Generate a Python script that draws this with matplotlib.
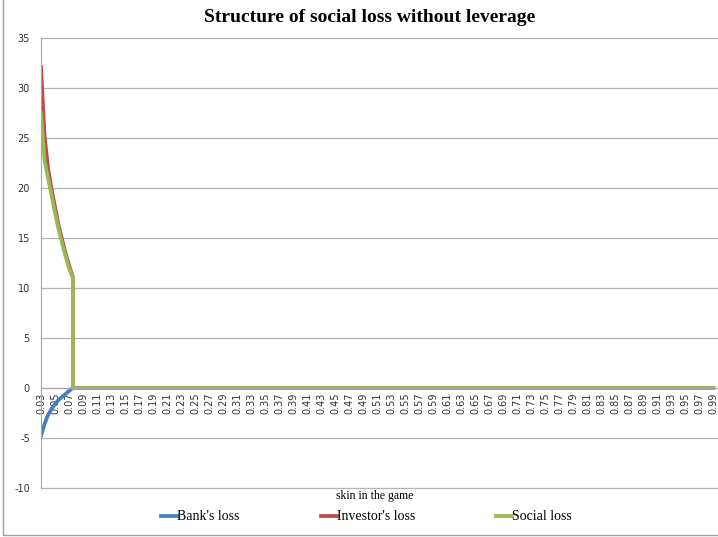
#!/usr/bin/env python3

import matplotlib as mpl
mpl.use('Agg')
import matplotlib.pyplot as plt
from matplotlib.patches import Rectangle

## Data (x = skin in the game)
bank_x = [0.030, 0.035, 0.040, 0.045, 0.050, 0.055, 0.060, 0.065, 0.070, 0.0755, 0.99]
bank_y = [-4.8, -3.6, -2.7, -2.1, -1.6, -1.2, -0.9, -0.6, -0.3, 0.0, 0.0]

investor_x = [0.030, 0.035, 0.040, 0.045, 0.050, 0.055, 0.060, 0.065, 0.070, 0.0745, 0.0755, 0.0755, 0.99]
investor_y = [32.1, 25.3, 22.0, 19.9, 18.1, 16.3, 14.9, 13.5, 12.3, 11.3, 11.1, 0.0, 0.0]

social_x = [0.030, 0.035, 0.040, 0.045, 0.050, 0.055, 0.060, 0.065, 0.070, 0.0755, 0.0755, 0.99]
social_y = [27.5, 22.8, 21.0, 19.3, 17.5, 15.9, 14.5, 13.2, 12.0, 11.0, 0.0, 0.0]

xticks = [round(0.03 + 0.02 * i, 2) for i in range(49)]
xticklabels = ['{:.2f}'.format(t) for t in xticks]
yticks = [-10, -5, 0, 5, 10, 15, 20, 25, 30, 35]

series = [
  ("Bank's loss", bank_x, bank_y, '#4a7ebb'),
  ("Investor's loss", investor_x, investor_y, '#be4b48'),
  ("Social loss", social_x, social_y, '#98b954'),
]

serif = ['Liberation Serif', 'DejaVu Serif']
plt.rcParams['axes.unicode_minus'] = False

fig = plt.figure(figsize=(7.18, 5.37), dpi=100)
ax = fig.add_axes([41 / 718, 1 - 488 / 537, 677 / 718, 450 / 537])

# move the category axis to y = 0 first (this resets the tick objects)
for side in ['top', 'right']:
  ax.spines[side].set_visible(False)
ax.spines['left'].set_color('#a6a6a6')
ax.spines['bottom'].set_color('#a6a6a6')
ax.spines['bottom'].set_position(('data', 0))

lines = []
for name, xs, ys, col in series:
  ln, = ax.plot(xs, ys, color=col, lw=2.7, label=name, solid_joinstyle='round')
  lines.append(ln)

ax.set_xlim(0.03, 0.9967)
ax.set_ylim(-10, 35)
ax.set_yticks(yticks)
ax.set_xticks(xticks)
ax.set_xticklabels(xticklabels, rotation=90, fontsize=7)
ax.tick_params(axis='y', length=0, pad=8, labelsize=7, colors='#303030')
ax.tick_params(axis='x', length=0, pad=3, colors='#303030')
ax.grid(visible=True, axis='y', color='#b3b3b3', lw=0.9)
for gl in ax.get_ygridlines():
  gl.set_clip_on(False)
ax.set_axisbelow(True)

fig.text(370 / 718, 1 - 17 / 537, 'Structure of social loss without leverage',
         ha='center', va='center', fontsize=14, fontweight='bold', family=serif)
fig.text(375 / 718, 1 - 496 / 537, 'skin in the game',
         ha='center', va='center', fontsize=8.5, family=serif)

# Legend entries placed one by one, like the spreadsheet layout
for ln, xpos in zip(lines, [161, 321, 496]):
  leg = fig.legend(handles=[ln], loc='center left',
                   bbox_to_anchor=(xpos / 718, 1 - 517 / 537),
                   frameon=False, handlelength=1.15, handletextpad=0.0,
                   borderpad=0, borderaxespad=0,
                   prop={'family': serif, 'size': 10})

# chart area border
fig.patches.append(Rectangle((3 / 718, 2 / 537), 1.2, 1.2, transform=fig.transFigure,
                             fill=False, ec='#a0a0a0', lw=1))

fig.savefig('out.png', dpi=100)
